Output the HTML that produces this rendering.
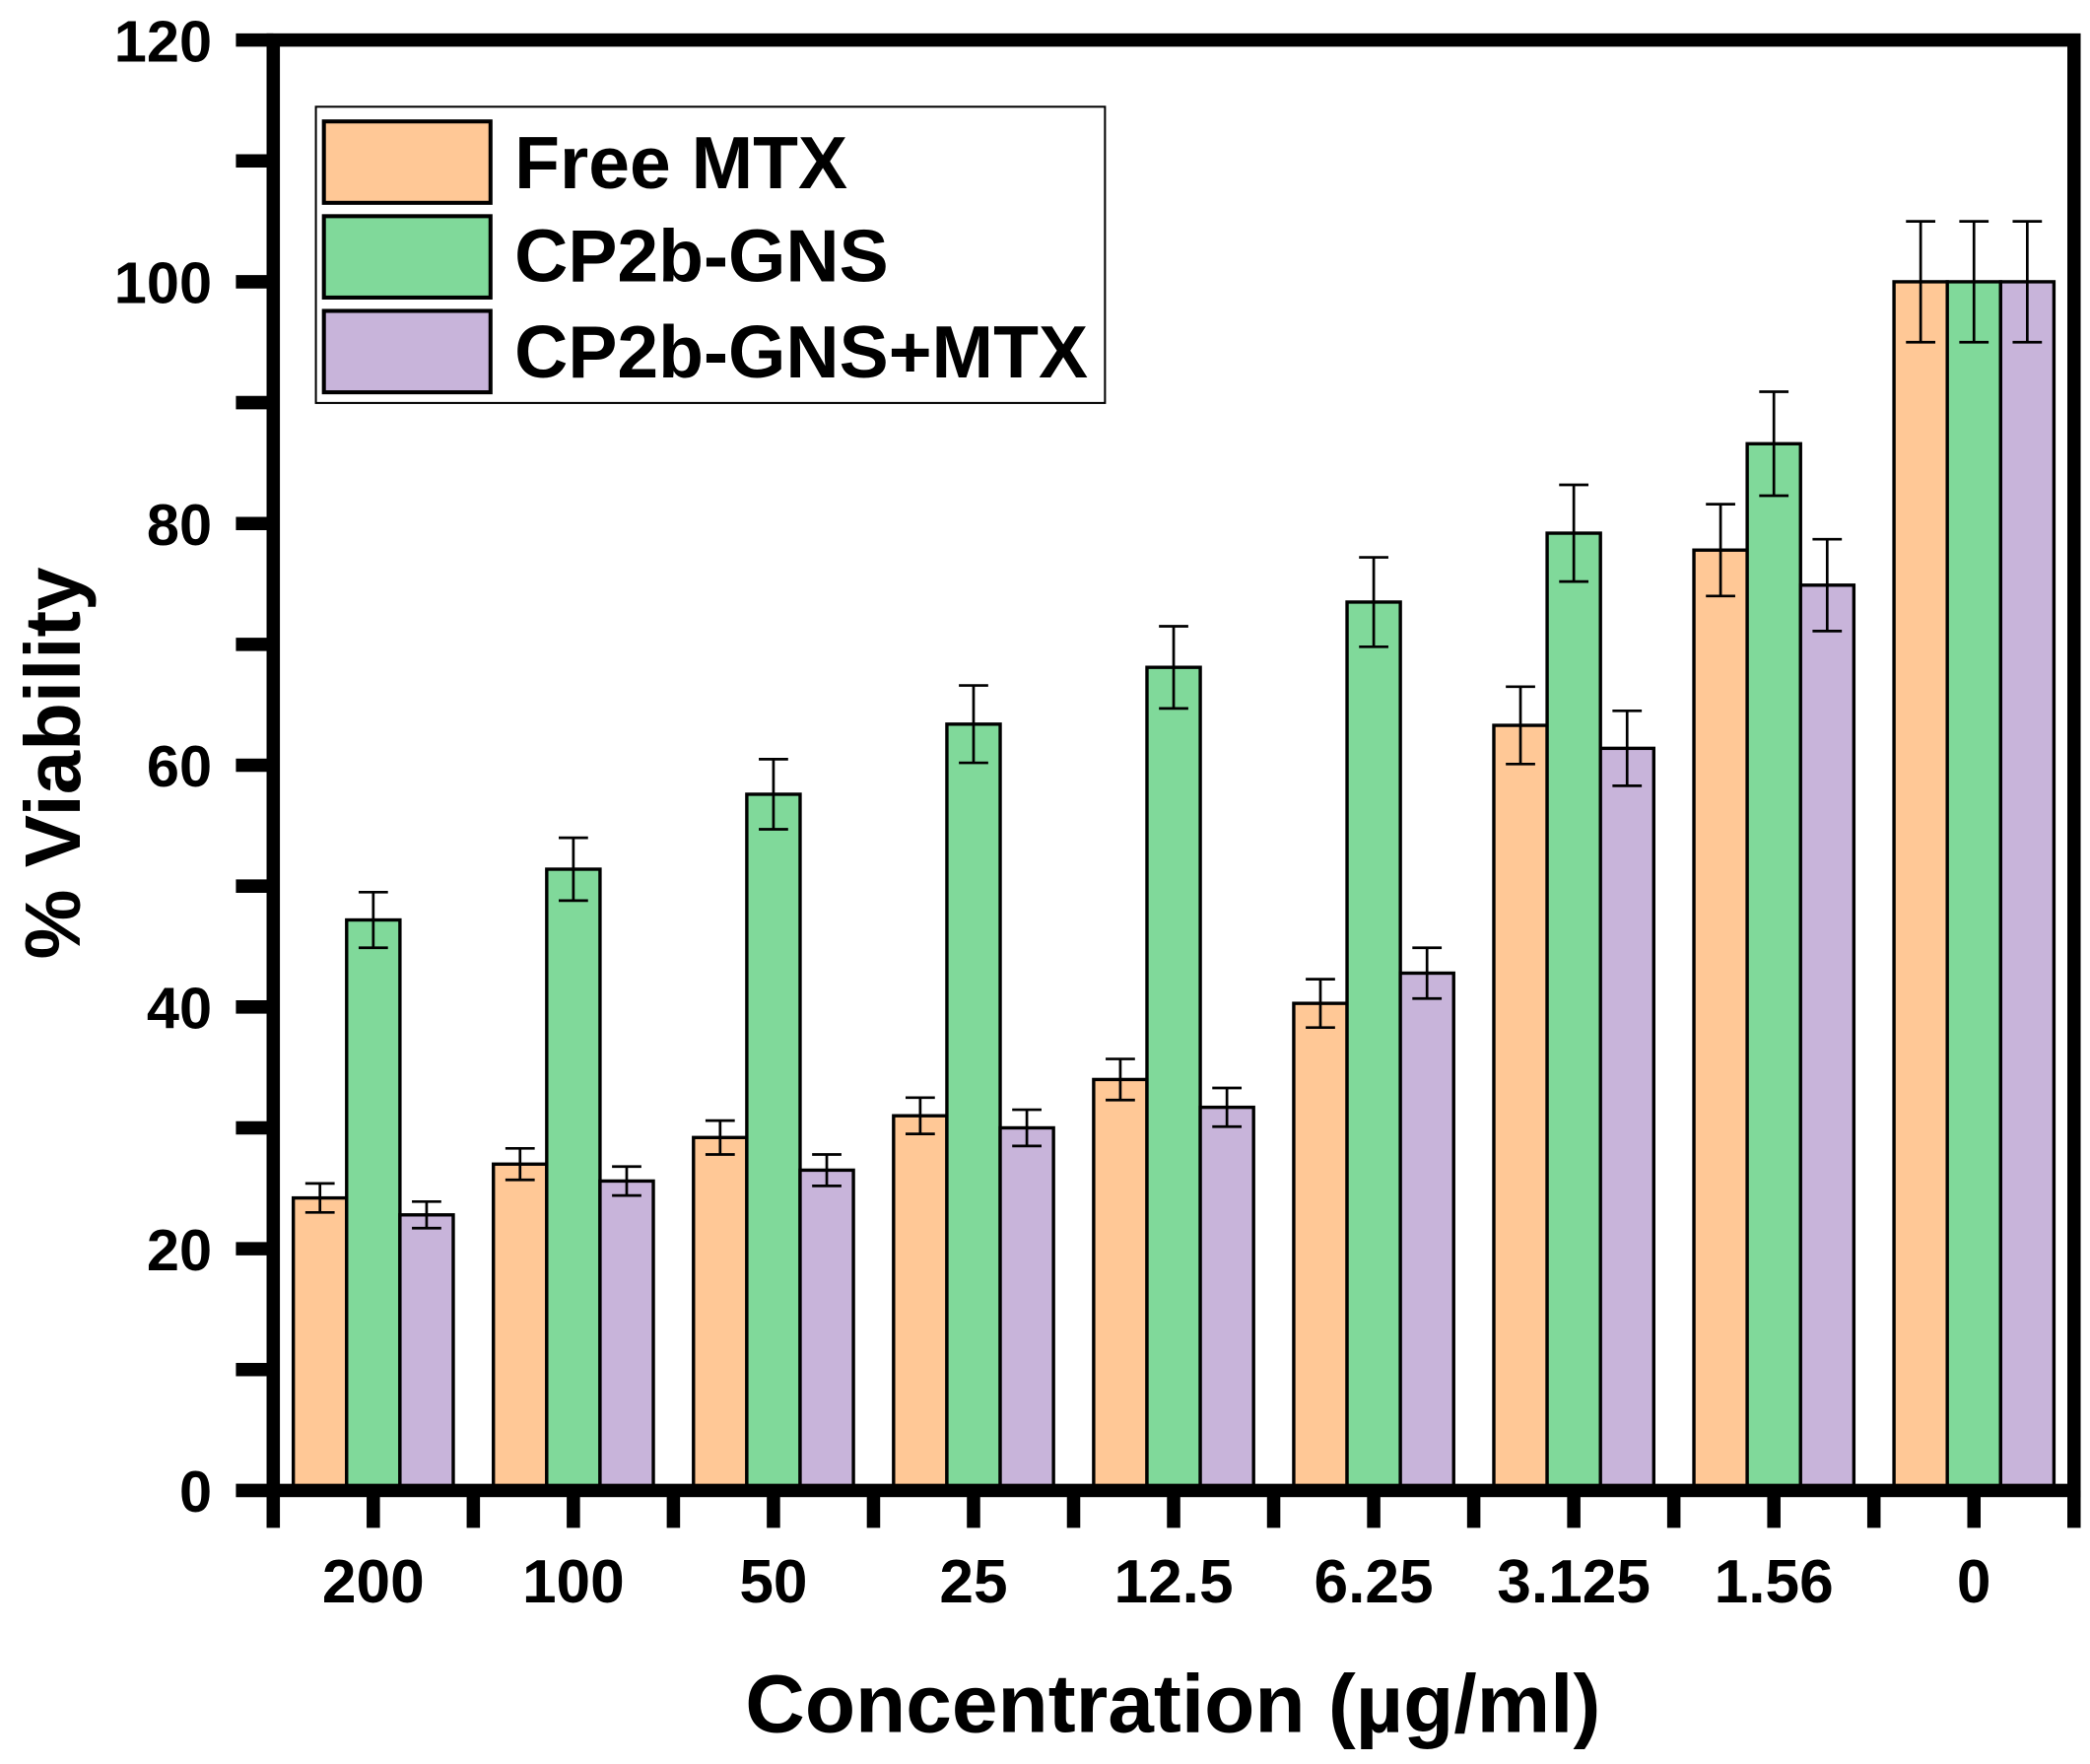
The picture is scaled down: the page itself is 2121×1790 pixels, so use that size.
<!DOCTYPE html>
<html><head><meta charset="utf-8"><style>
html,body{margin:0;padding:0;background:#fff}
svg{display:block}
text{font-family:"Liberation Sans",Arial,sans-serif;font-weight:bold;fill:#000}
</style></head><body>
<svg id="chart" width="2121" height="1790" viewBox="0 0 1568 1322" preserveAspectRatio="none" xmlns="http://www.w3.org/2000/svg">
<g id="bars"></g>
<g id="axes"></g>
<g>
<rect x="237" y="80" width="592" height="222" fill="#fff" stroke="#000" stroke-width="1.5"/>
<rect x="243" y="91" width="125" height="61" fill="#FFC896" stroke="#000" stroke-width="3"/>
<text x="386" y="141" font-size="55.5">Free MTX</text>
<rect x="243" y="162" width="125" height="61" fill="#80D99A" stroke="#000" stroke-width="3"/>
<text x="386" y="211" font-size="55.5">CP2b-GNS</text>
<rect x="243" y="233" width="125" height="61" fill="#C8B4DA" stroke="#000" stroke-width="3"/>
<text x="386" y="283" font-size="55.5">CP2b-GNS+MTX</text>
</g>
<text transform="translate(60,572) rotate(-90)" text-anchor="middle" font-size="59">% Viability</text>
<text x="880" y="1298" text-anchor="middle" font-size="62">Concentration (µg/ml)</text>
</svg>
<script>
const categories = ["200","100","50","25","12.5","6.25","3.125","1.56","0"];
const freeMTX = [24.2,27,29.2,31,34,40.3,63.3,77.8,100];
const cp2bGNS = [47.2,51.4,57.6,63.4,68.1,73.5,79.2,86.6,100];
const cp2bGNSMTX = [22.8,25.6,26.5,30,31.7,42.8,61.4,74.9,100];
const freeMTXErr = [1.2,1.3,1.4,1.5,1.7,2.0,3.2,3.8,5];
const cp2bGNSErr = [2.3,2.6,2.9,3.2,3.4,3.7,4.0,4.3,5];
const cp2bGNSMTXErr = [1.1,1.2,1.3,1.5,1.6,2.1,3.1,3.8,5];
const yTicks = [0,20,40,60,80,100,120];

const L=205,R=1556,T=30,B=1117,YMAX=120;
const NS="http://www.w3.org/2000/svg";
const y=v=>B-(v/YMAX)*(B-T);
const step=(R-L)/categories.length;
const xc=i=>L+step*(i+0.5);
const bw=40;
function mk(tag,attrs,parent){const e=document.createElementNS(NS,tag);for(const k in attrs)e.setAttribute(k,attrs[k]);parent.appendChild(e);return e;}
const bars=document.getElementById('bars'),axes=document.getElementById('axes');
const series=[[freeMTX,freeMTXErr,"#FFC896","free-mtx"],[cp2bGNS,cp2bGNSErr,"#80D99A","cp2b-gns"],[cp2bGNSMTX,cp2bGNSMTXErr,"#C8B4DA","cp2b-gns-mtx"]];
categories.forEach((c,i)=>{
  series.forEach((s,j)=>{
    const x0=xc(i)+(j-1.5)*bw, v=s[0][i], e=s[1][i];
    const r=mk('rect',{x:x0,y:y(v),width:bw,height:B-y(v),fill:s[2],stroke:"#000","stroke-width":2.5},bars);
    
    
    const cx=x0+bw/2;
    const eb=mk('path',{d:`M${cx},${y(v+e)}V${y(v-e)}M${cx-11},${y(v+e)}H${cx+11}M${cx-11},${y(v-e)}H${cx+11}`,stroke:"#000","stroke-width":2,fill:"none"},bars);
    
    
  });
  const lab=mk('text',{x:xc(i),y:1201,"text-anchor":"middle","font-size":46},axes);
  lab.textContent=c;
  
  
});
const fr=mk('rect',{x:L,y:T,width:R-L,height:B-T,fill:"none",stroke:"#000","stroke-width":10},axes);


for(let k=0;k<=categories.length*2;k++){
  const x=L+step*k/2;
  const t=mk('line',{x1:x,x2:x,y1:B,y2:B+28,stroke:"#000","stroke-width":10},axes);
  
  
}
for(let v=0;v<=YMAX;v+=10){
  const t=mk('line',{x1:L-28,x2:L,y1:y(v),y2:y(v),stroke:"#000","stroke-width":10},axes);
  
  
}
yTicks.forEach(v=>{
  const t=mk('text',{x:159,y:y(v)+16,"text-anchor":"end","font-size":44},axes);
  t.textContent=v;
  
  
});
</script>
</body></html>
